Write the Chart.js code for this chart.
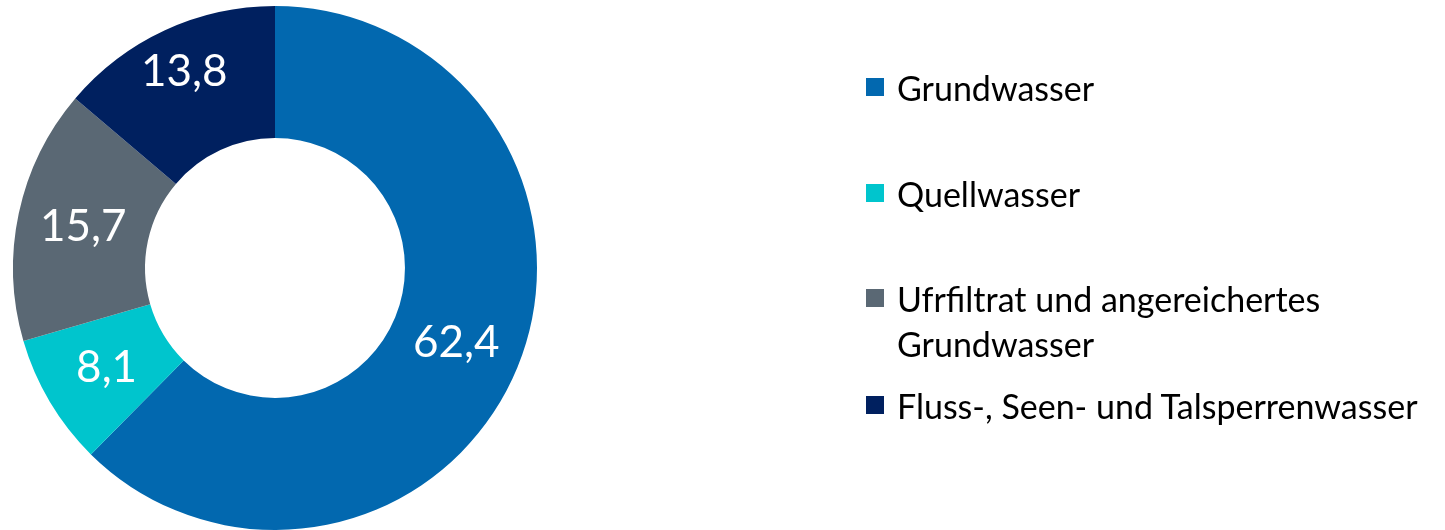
<!DOCTYPE html>
<html>
<head>
<meta charset="utf-8">
<script src="https://cdn.jsdelivr.net/npm/chart.js@4"></script>
<style>
  html, body { margin: 0; padding: 0; background: #fff; }
  #wrap { position: relative; width: 1445px; height: 530px; }
  #legend { position: absolute; left: 866px; top: 0; font-family: Lato, sans-serif; font-size: 34px; color: #000; }
  .item { position: absolute; left: 0; white-space: nowrap; }
  .box { position: absolute; left: 0; width: 18px; height: 18px; }
  .txt { position: absolute; left: 31px; line-height: 45px; }
</style>
</head>
<body>
<div id="wrap">
  <canvas id="donut" width="1445" height="530"></canvas>
  <div id="legend"></div>
</div>
<script>
// Chart data
const categories = ['Grundwasser', 'Quellwasser', 'Ufrfiltrat und angereichertes\nGrundwasser', 'Fluss-, Seen- und Talsperrenwasser'];
const shares = [62.4, 8.1, 15.7, 13.8];
const colors = ['#0268AF', '#00C5CD', '#5A6874', '#00205F'];
// vertical centre of the first legend line for each entry
const legendRows = [87, 193, 298, 405];
// extra outward push of each value label (px), the top one sits further out
const labelPush = [0, 0, 0, 20];

// Writes the value in the middle of each slice
const sliceLabels = {
    id: 'sliceLabels',
    afterDatasetsDraw(chart) {
        const ctx = chart.ctx;
        const meta = chart.getDatasetMeta(0);
        ctx.save();
        ctx.fillStyle = '#fff';
        ctx.font = '44px Lato, sans-serif';
        ctx.textAlign = 'center';
        ctx.textBaseline = 'middle';
        meta.data.forEach((arc, i) => {
            const mid = (arc.startAngle + arc.endAngle) / 2;
            const r = (arc.innerRadius + arc.outerRadius) / 2 + labelPush[i];
            const x = arc.x + Math.cos(mid) * r;
            const y = arc.y + Math.sin(mid) * r;
            ctx.fillText(shares[i].toFixed(1).replace('.', ','), x, y);
        });
        ctx.restore();
    }
};

new Chart(document.getElementById('donut').getContext('2d'), {
    type: 'doughnut',
    data: {
        labels: categories,
        datasets: [{
            data: shares,
            backgroundColor: colors,
            borderWidth: 0,
            hoverOffset: 0
        }]
    },
    options: {
        responsive: false,
        animation: false,
        cutout: '49.6%',
        layout: { padding: { left: 13, right: 908, top: 6, bottom: 0 } },
        plugins: {
            legend: { display: false },
            tooltip: { enabled: false }
        }
    },
    plugins: [sliceLabels]
});

// HTML legend on the right
const legend = document.getElementById('legend');
categories.forEach((name, i) => {
    const item = document.createElement('div');
    item.className = 'item';
    item.style.top = (legendRows[i] - 22) + 'px';
    const box = document.createElement('div');
    box.className = 'box';
    box.style.background = colors[i];
    box.style.top = '13px';
    const txt = document.createElement('div');
    txt.className = 'txt';
    txt.innerHTML = name.replace('\n', '<br>');
    item.appendChild(box);
    item.appendChild(txt);
    legend.appendChild(item);
});
</script>
</body>
</html>
